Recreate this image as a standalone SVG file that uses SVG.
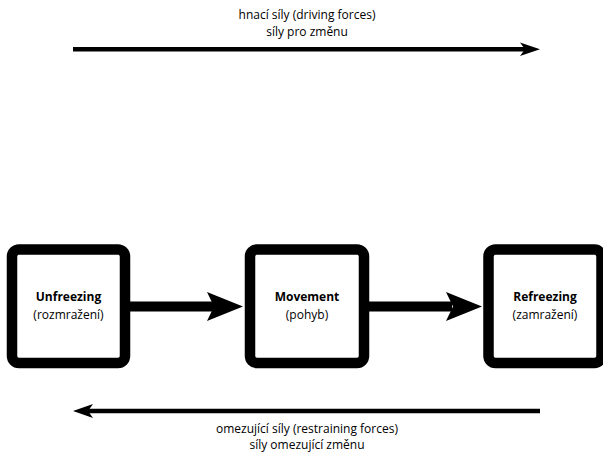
<svg xmlns="http://www.w3.org/2000/svg" width="603" height="452" viewBox="0 0 603 452">
<style>
.box{fill:#fff;stroke:#000;stroke-width:10.5}
.t{font-family:"Open Sans","Noto Sans",sans-serif;font-size:12px;fill:#000;text-anchor:middle}
.b{font-weight:bold}
.ln{stroke:#000;fill:none}
</style>
<rect width="603" height="452" fill="#fff"/>
<g id="connectors">
<path class="ln" d="M130 306.5H215" stroke-width="10"/>
<path d="M243 306.5L207 292L214 306.5L207 321Z"/>
<path class="ln" d="M369 306.5H452" stroke-width="10"/>
<path d="M482 306.5L446 292L453 306.5L446 321Z"/>
<path class="ln" d="M73 49.3H525" stroke-width="4.5"/>
<path d="M540 49.3L520 42.5L525 49.3L520 56Z"/>
<path class="ln" d="M540 411H88" stroke-width="4.5"/>
<path d="M73 411L93 404L88 411L93 418Z"/>
</g>
<g id="top-label">
<text class="t" x="307" y="19">hnací síly (driving forces)</text>
<text class="t" x="307" y="36">síly pro změnu</text>
</g>
<g id="bottom-label">
<text class="t" x="307" y="433">omezující síly (restraining forces)</text>
<text class="t" x="307" y="449">síly omezující změnu</text>
</g>
<g id="unfreezing">
<rect class="box" x="12" y="249.5" width="113" height="113.5" rx="7"/>
<text class="t b" x="68.5" y="301">Unfreezing</text>
<text class="t" x="68.5" y="319">(rozmražení)</text>
</g>
<g id="movement">
<rect class="box" x="250" y="249.5" width="114" height="113.5" rx="7"/>
<text class="t b" x="307" y="301">Movement</text>
<text class="t" x="307" y="319">(pohyb)</text>
</g>
<g id="refreezing">
<rect class="box" x="488.5" y="249.5" width="113" height="113.5" rx="7"/>
<text class="t b" x="545" y="301">Refreezing</text>
<text class="t" x="545" y="319">(zamražení)</text>
</g>
</svg>
